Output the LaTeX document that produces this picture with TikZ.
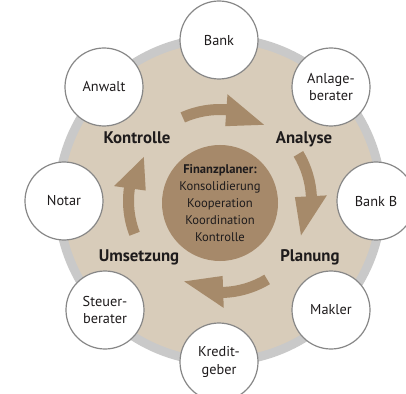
\documentclass[tikz,border=0pt]{standalone}
\usepackage{fontspec}
\setmainfont{PT Sans}
\definecolor{ringgray}{RGB}{201,201,201}
\definecolor{beige}{RGB}{216,204,186}
\definecolor{arrowbrown}{RGB}{166,138,106}
\definecolor{corebrown}{RGB}{166,137,106}
\definecolor{circleedge}{RGB}{135,135,135}
\definecolor{ink}{RGB}{30,27,28}
\begin{document}
\begin{tikzpicture}[x=1pt,y=1pt,
  member/.style={circle, draw=circleedge, line width=1.2pt, fill=white,
    minimum size=78pt, inner sep=0pt, align=center, text=ink,
    font=\fontsize{14.3}{17.5}\selectfont},
  phase/.style={anchor=base, inner sep=0pt, text=ink,
    font=\fontsize{16.8}{19}\selectfont\bfseries},
  core/.style={circle, fill=corebrown, minimum size=116pt, inner sep=0pt,
    align=center, text=ink, font=\fontsize{12.6}{17}\selectfont},
  cyclearrow/.style={fill=arrowbrown}]
\useasboundingbox (-220,-192) rectangle (186,201);
% background disk
\fill[ringgray] (0,1) circle (166);
\fill[beige] (0,1) circle (157);
% cycle arrows
\foreach \ta/\tb/\tp in {114/86/60, 31/3/-23, -59/-88/-114, 201/172/150} {
  \fill[cyclearrow] (\ta:97) arc[start angle=\ta, end angle=\tb, radius=97]
    -- (\tb:107) -- (\tp:88) -- (\tb:75) -- (\tb:86)
    arc[start angle=\tb, end angle=\ta, radius=86] -- cycle;
}
% core
\node[core] (core) at (0,-2) {\textbf{Finanzplaner:}\\Konsolidierung\\Kooperation\\Koordination\\Kontrolle};
% phases
\node[phase] (kontrolle) at (-83,57.5) {Kontrolle};
\node[phase] (analyse) at (84,57.5) {Analyse};
\node[phase] (umsetzung) at (-81,-60.5) {Umsetzung};
\node[phase] (planung) at (90,-60.5) {Planung};
% members
\node[member] (bank) at (-1,161) {Bank};
\node[member] (anlage) at (111,114) {Anlage-\\berater};
\node[member] (bankb) at (156,0) {Bank B};
\node[member] (makler) at (111,-109) {Makler};
\node[member] (kredit) at (-1,-161) {Kredit-\\geber};
\node[member] (steuer) at (-115,-109) {Steuer-\\berater};
\node[member] (notar) at (-156,0) {Notar};
\node[member] (anwalt) at (-116,114) {Anwalt};
\end{tikzpicture}
\end{document}
